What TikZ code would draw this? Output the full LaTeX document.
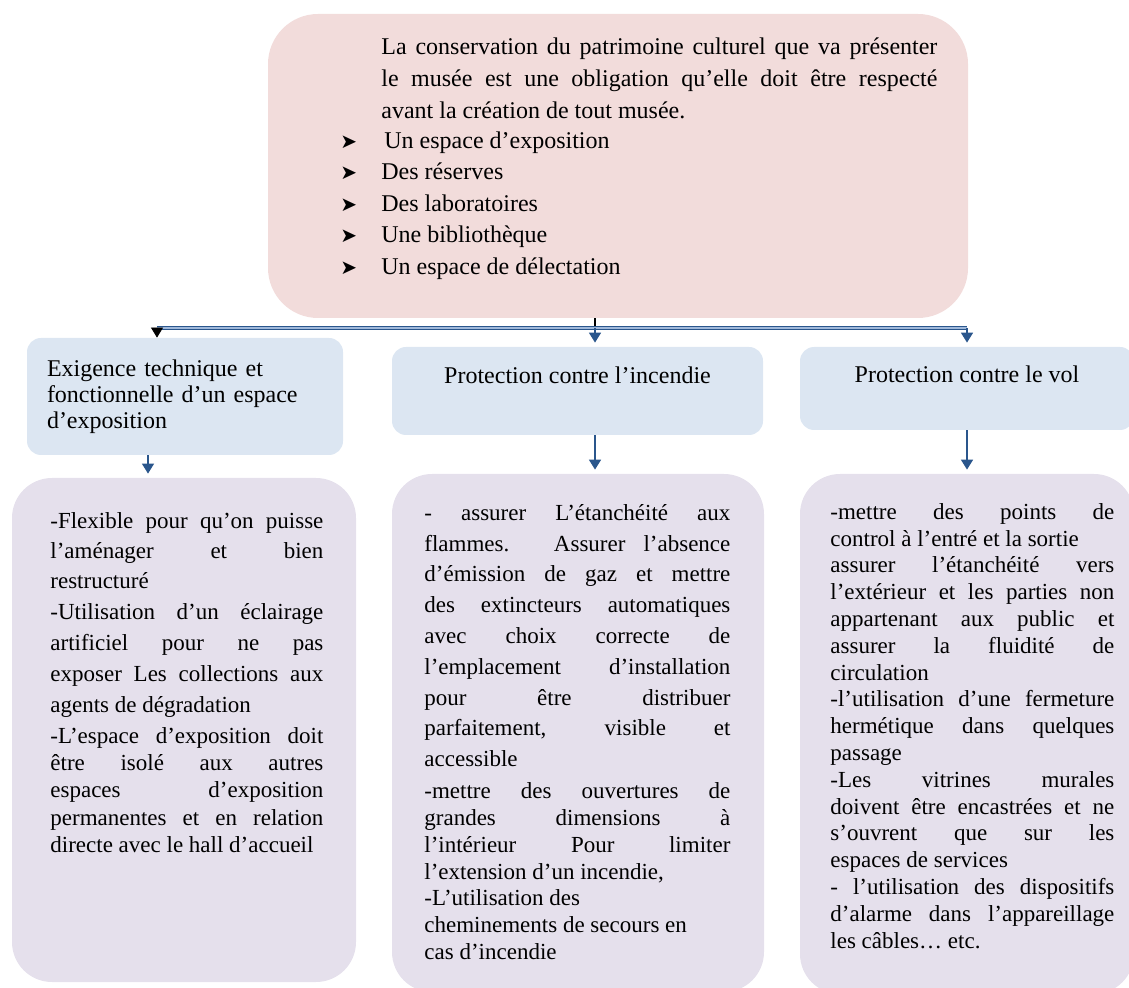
\documentclass[tikz,border=0pt]{standalone}
\usepackage{fontspec}
\setmainfont{Liberation Serif}
\newfontfamily\symfont{DejaVu Sans}
\usepackage{xcolor}
\usetikzlibrary{arrows.meta}

\definecolor{pinkbg}{HTML}{F2DCDB}
\definecolor{bluebg}{HTML}{DCE6F2}
\definecolor{lilacbg}{HTML}{E5E0EC}
\definecolor{arrowblue}{HTML}{2A568C}
\definecolor{barlight}{HTML}{9FB8DA}

\newcommand{\puce}{\makebox[20.5pt][l]{\symfont\fontsize{10}{10}\selectfont ➤}}
\newcommand{\loosebody}{\fontsize{11.5}{15.4}\selectfont}
\newcommand{\tightbody}{\fontsize{11.5}{13.4}\selectfont}
\hbadness=10000
\pretolerance=10000
\tolerance=10000

\tikzset{
  goalbox/.style={fill=pinkbg, rounded corners=25pt, inner sep=0pt},
  headbox/.style={fill=bluebg, rounded corners=7pt, inner xsep=10pt, font=\fontsize{12}{13}\selectfont},
  listbox/.style={fill=lilacbg, rounded corners=20pt, inner sep=0pt},
  bodytext/.style={anchor=north west, inner sep=0pt, align=justify, font=\loosebody},
  link/.style={draw=arrowblue, line width=0.8pt, -{Triangle[width=6pt,length=5pt]}, shorten >=2pt},
  bar/.style={draw=arrowblue, line width=0.5pt, double=barlight, double distance=0.9pt}
}

\begin{document}
\begin{tikzpicture}[x=0.5pt, y=-0.5pt]
\useasboundingbox (0,0) rectangle (1129,988);

% boxes
\node[goalbox, minimum width=350pt, minimum height=152pt] (goalBox) at (618,166) {};
\node[headbox, minimum width=158pt, minimum height=58.5pt, text width=138pt, align=left] (tech) at (185,396.5)
  {Exigence technique et\\ fonctionnelle d’un espace\\ d’exposition};
\node[headbox, minimum width=185.5pt, inner ysep=8pt, text height=10.5pt, text depth=17.5pt] (fire) at (577.5,391)
  {Protection contre l’incendie};
\node[headbox, minimum width=167pt, inner ysep=7.5pt, text height=10.5pt, text depth=16pt] (theft) at (967,388.5)
  {Protection contre le vol};
\node[listbox, minimum width=172pt, minimum height=252pt] (techList) at (184,730) {};
\node[listbox, minimum width=186pt, minimum height=259pt] (fireList) at (578,733) {};
\node[listbox, minimum width=167pt, minimum height=260pt] (theftList) at (967,734) {};

% texts
\node[bodytext, text width=278pt, font=\fontsize{12}{16}\selectfont] (goalTxt) at (381,37)
  {La conservation du patrimoine culturel que va présenter\linebreak
   le musée est une obligation qu’elle doit être respecté\linebreak
   avant la création de tout musée.};
\node[anchor=north west, inner sep=0pt, align=left, font=\fontsize{12}{15.75}\selectfont] (needsTxt) at (340,131)
  {\puce\hspace{1.5pt}Un espace d’exposition\\ \puce Des réserves\\ \puce Des laboratoires\\
   \puce Une bibliothèque\\ \puce Un espace de délectation};

\node[bodytext, text width=136.5pt] (techTxt) at (50,512) {%
  {\fontsize{11.5}{15}\selectfont -Flexible pour qu’on puisse\linebreak l’aménager et bien\linebreak restructuré\par}
  {\fontsize{11.5}{15.5}\selectfont -Utilisation d’un éclairage\linebreak artificiel pour ne pas\linebreak
   exposer Les collections aux\linebreak agents de dégradation\par}
  \vspace{2pt}
  {\fontsize{11.5}{13.6}\selectfont -L’espace d’exposition doit\linebreak être isolé aux autres\linebreak
   espaces d’exposition\linebreak permanentes et en relation\linebreak directe avec le hall d’accueil\par}};

\node[bodytext, text width=153pt] (fireTxt) at (424,504) {%
  {\loosebody - assurer L’étanchéité aux\linebreak flammes. Assurer l’absence\linebreak
   d’émission de gaz et mettre\linebreak des extincteurs automatiques\linebreak
   avec choix correcte de\linebreak l’emplacement d’installation\linebreak
   pour être distribuer\linebreak parfaitement, visible et\linebreak accessible\par}
  \vspace{2.6pt}
  {\tightbody -mettre des ouvertures de\linebreak grandes dimensions à\linebreak
   l’intérieur Pour limiter\linebreak l’extension d’un incendie,\\ -L’utilisation des\\
   cheminements de secours en\\ cas d’incendie\par}};

\node[bodytext, text width=142pt, font=\tightbody] (theftTxt) at (830,503) {%
  -mettre des points de\linebreak control à l’entré et la sortie\\
  assurer l’étanchéité vers\linebreak l’extérieur et les parties non\linebreak
  appartenant aux public et\linebreak assurer la fluidité de\linebreak circulation\\
  -l’utilisation d’une fermeture\linebreak hermétique dans quelques\linebreak passage\\
  -Les vitrines murales\linebreak doivent être encastrées et ne\linebreak
  s’ouvrent que sur les\linebreak espaces de services\\
  - l’utilisation des dispositifs\linebreak d’alarme dans l’appareillage\linebreak les câbles… etc.};

% connectors
\coordinate (split) at (595,328);
\coordinate (barL) at (157,328);
\coordinate (barR) at (967,328);
\draw[black, line width=0.6pt] (goalBox.south -| split) -- (split);
\draw[bar] (barL) -- (barR);
\draw[black, line width=0.4pt, -{Triangle[width=6pt,length=5pt]}] (barL) -- (barL |- tech.north);
\draw[link] (split) -- (split |- fire.north);
\draw[link] (barR) -- (theft.north);
\draw[link] ([xshift=-18.5pt]tech.south) -- ([xshift=-18pt]techList.north);
\draw[link] (fire.south -| split) -- (fireList.north -| split);
\draw[link] (theft.south) -- (theftList.north);
\end{tikzpicture}
\end{document}
